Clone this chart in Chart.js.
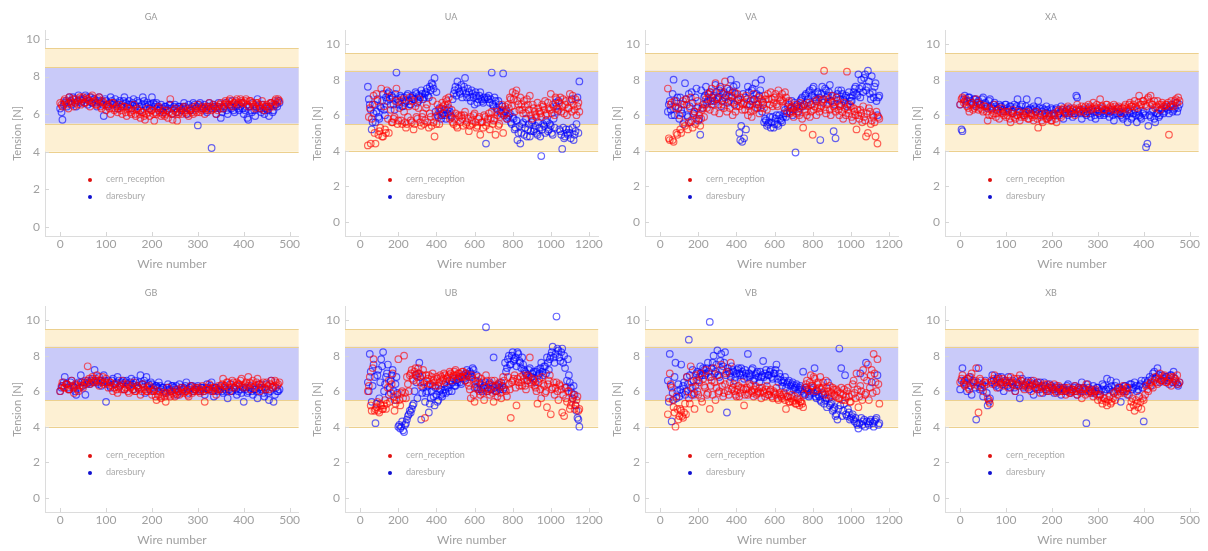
<!DOCTYPE html>
<html>
<head>
<meta charset="utf-8">
<script src="https://cdn.jsdelivr.net/npm/chart.js@4.4.1/dist/chart.umd.min.js"></script>
<style>
  body { margin: 0; background: #fff; width: 1208px; height: 551px; overflow: hidden; font-family: Lato, sans-serif; }
  .panel { position: absolute; width: 304px; height: 275px; }
  .legend { position: absolute; left: 88px; top: 170px; font-size: 9px; color: #aaa; line-height: 17px; }
  .legend .dot { display: inline-block; width: 4px; height: 4px; border-radius: 50%; margin-right: 14px; vertical-align: middle; }
</style>
</head>
<body>
<div id="wrap"></div>
<script>
// Limiti di tensione (bande)
const outerBand = [4, 9.5];
const innerBand = [5.5, 8.5];

const seriesNames = ['cern_reception', 'daresbury'];
const yTicks = [0, 2, 4, 6, 8, 10];
const xTicksG = [0, 100, 200, 300, 400, 500];
const xTicksU = [0, 200, 400, 600, 800, 1000, 1200];

// numeri dei fili campionati (griglia principale + fili intermedi)
function wireSteps(first, last, step) {
    const out = [];
    for (let w = first; w <= last; w += step) out.push(w);
    return out;
}
const wiresG = wireSteps(0, 475, 5);
const wiresGMid = wireSteps(3, 478, 5);
const wiresU = wireSteps(40, 1150, 10);
const wiresUMid = wireSteps(45, 1145, 10);

// GA
const gaCern = [
    6.6,6.4,6.8,6.5,6.9,6.6,6.4,6.8,6.7,6.5, 6.9,6.6,6.8,6.4,7.0,6.7,6.5,6.9,6.3,6.6,
    6.2,6.5,6.0,6.6,6.3,6.1,6.5,6.0,6.4,5.9, 6.3,6.0,6.5,5.9,6.2,5.8,6.1,5.7,6.3,5.9,
    6.2,5.65,6.0,6.4,5.9,6.2,6.0,5.8,6.8,5.7, 6.3,5.65,6.1,6.0,6.4,6.2,5.9,6.3,6.0,6.2,
    6.5,6.1,6.3,6.0,6.4,6.6,6.2,6.5,6.0,6.4, 6.6,6.3,6.7,6.5,6.8,6.4,6.6,6.8,6.5,6.7,
    6.6,6.8,6.4,6.7,6.5,6.3,6.6,6.4,6.7,6.2, 6.5,6.3,6.6,6.4,6.8,6.8
];
const gaCernMid = [
    6.5,6.7,6.6,6.3,6.7,6.8,6.6,6.5,6.9,6.8, 6.6,6.8,6.7,6.9,6.6,6.5,6.8,6.4,6.7,6.5,
    6.4,6.3,6.6,6.2,6.4,6.3,6.2,6.4,6.1,6.3, 6.1,6.2,6.0,6.3,6.0,6.1,5.9,6.0,6.1,6.2,
    6.0,6.1,6.3,6.1,6.0,5.9,6.2,6.1,6.0,6.2, 6.1,6.0,6.2,6.3,6.1,6.0,6.2,6.1,6.4,6.1,
    6.3,6.2,6.4,6.3,6.2,6.4,6.3,6.4,6.2,6.5, 6.4,6.5,6.6,6.7,6.5,6.6,6.7,6.6,6.8,6.6,
    6.7,6.5,6.7,6.6,6.4,6.6,6.5,6.3,6.5,6.4, 6.4,6.6,6.5,6.7,6.6,6.7
];
const gaDaresbury = [
    6.3,5.7,6.6,6.4,6.9,6.5,6.8,6.4,7.0,6.6, 6.8,7.0,6.5,6.9,6.6,6.8,6.4,6.9,6.7,5.9,
    6.7,6.4,6.9,6.5,6.8,6.3,6.7,6.5,6.9,6.4, 6.7,6.3,6.8,6.4,6.6,6.2,6.9,6.5,6.6,6.3,
    6.9,6.4,6.6,6.2,6.5,6.1,6.4,6.3,6.5,6.0, 6.5,6.1,6.4,6.2,6.6,6.0,6.5,6.2,6.6,6.3,
    5.4,6.6,6.3,6.5,6.1,6.6,4.2,6.4,6.0,6.6, 5.8,6.3,6.6,6.0,6.4,6.7,6.1,6.5,6.2,6.6,
    6.0,6.4,5.7,6.2,6.6,5.9,6.8,6.3,6.5,6.0, 6.4,5.9,6.6,6.2,6.5,6.7
];
const gaDaresburyMid = [
    6.1,6.5,6.7,6.6,6.7,6.9,6.6,6.7,6.8,6.7, 6.6,6.9,6.7,6.6,6.8,6.6,6.7,6.6,6.5,6.8,
    6.5,6.6,6.7,6.6,6.5,6.6,6.4,6.7,6.6,6.5, 6.5,6.6,6.5,6.7,6.4,6.5,6.7,6.4,6.5,6.5,
    6.6,6.5,6.4,6.3,6.3,6.4,6.2,6.5,6.3,6.4, 6.3,6.4,6.3,6.4,6.4,6.3,6.2,6.4,6.5,6.4,
    6.5,6.4,6.3,6.2,6.4,6.3,6.5,6.3,6.4,6.3, 6.1,6.4,6.2,6.5,6.3,6.2,6.4,6.3,6.4,6.3,
    6.2,5.8,6.4,6.1,6.2,6.4,6.3,6.1,6.2,6.3, 6.2,6.4,6.1,6.5,6.4,6.6
];

// UA
const uaCern = [
    4.3,6.4,5.8,7.1,4.4,6.8,5.1,7.5,4.8,5.2, 7.4,5.0,6.3,5.6,5.9,7.5,5.7,6.8,5.5,6.2,
    5.3,5.9,7.0,5.6,5.2,6.5,5.8,6.9,5.4,6.1, 5.7,6.6,5.3,5.9,6.8,4.8,5.5,6.3,6.0,6.7,
    6.1,6.9,6.6,5.8,6.3,5.5,6.1,5.3,5.9,6.0, 5.4,6.2,5.6,5.1,5.9,5.5,6.1,5.3,5.8,4.9,
    5.6,6.0,5.4,5.8,5.2,6.2,5.7,4.9,6.0,5.5, 6.3,5.0,6.5,5.8,6.4,6.9,7.3,6.2,7.4,6.6,
    7.0,6.3,6.8,6.1,6.6,7.1,5.8,6.4,6.0,6.7, 6.2,5.9,6.5,6.8,6.1,6.4,7.2,6.6,6.0,6.9,
    6.3,7.0,6.5,6.1,6.8,6.4,7.2,6.2,6.6,6.9, 6.5,6.2
];
const uaCernMid = [
    5.9,4.4,6.6,5.0,7.2,4.9,5.3,4.8,6.5,5.0, 5.8,7.0,5.6,5.8,6.8,5.5,6.4,5.7,6.9,5.6,
    5.5,6.5,5.7,6.8,5.5,5.9,6.4,5.6,5.9,5.5, 6.4,5.6,6.1,5.4,5.6,5.9,6.6,5.5,6.4,6.5,
    6.6,6.8,7.0,5.9,5.6,5.8,5.4,6.0,5.6,5.8, 6.0,5.5,5.8,5.4,5.7,6.0,5.6,5.4,5.9,5.6,
    5.3,5.9,5.6,6.1,5.8,5.5,5.8,6.2,5.4,5.9, 6.6,6.0,6.1,6.6,7.0,6.5,6.9,7.2,6.8,6.3,
    6.6,6.1,6.5,6.9,6.3,6.0,6.6,6.2,5.9,6.4, 6.1,6.6,6.3,6.0,6.7,6.3,6.1,6.5,7.0,6.4,
    6.7,6.2,6.9,6.6,6.0,6.4,6.8,7.1,6.3,6.0, 6.7
];
const uaDaresbury = [
    7.6,6.6,5.2,6.1,5.6,6.9,5.8,6.4,7.2,6.0, 6.8,7.3,6.6,7.0,6.3,8.4,6.7,7.1,6.5,7.0,
    6.8,7.2,6.6,7.0,6.9,7.3,6.7,7.1,7.4,6.9, 7.2,7.5,7.0,7.4,7.7,8.1,7.3,5.9,6.2,6.0,
    6.3,5.8,6.1,6.2,5.9,7.2,7.6,7.9,7.3,7.7, 7.4,8.1,7.0,7.3,6.8,7.2,6.6,7.1,6.9,7.3,
    6.8,7.0,4.4,6.9,6.7,8.4,6.5,6.8,6.3,6.6, 6.1,8.35,6.2,5.8,6.0,5.6,5.9,5.2,5.7,5.0,
    4.4,5.5,4.9,5.8,5.2,4.8,5.6,5.1,5.4,4.9, 5.3,3.7,5.5,5.0,5.6,5.2,5.4,4.9,5.3,6.5,
    6.8,5.1,4.1,4.7,5.2,4.9,5.0,6.9,4.6,5.1, 7.0,7.9
];
const uaDaresburyMid = [
    6.9,6.3,5.6,6.6,6.2,5.9,6.5,6.8,6.3,7.0, 7.2,6.9,7.1,6.6,7.2,6.9,6.6,7.0,6.5,6.7,
    7.1,6.8,6.6,7.1,6.9,7.2,6.8,7.0,7.2,7.0, 7.3,7.1,7.6,7.8,7.5,6.2,6.0,6.4,5.8,6.1,
    6.0,6.3,6.4,6.0,6.9,7.4,7.1,7.5,7.2,7.0, 7.6,7.2,7.5,7.0,7.4,7.0,7.3,6.7,7.1,6.9,
    6.7,6.9,7.0,7.1,6.9,6.6,7.0,6.4,6.8,6.2, 6.5,6.0,6.3,5.9,6.1,5.5,5.8,5.3,4.6,5.4,
    5.0,5.6,5.3,4.8,5.5,5.1,5.7,5.2,5.0,5.6, 4.8,5.2,5.4,5.7,5.1,5.5,5.0,5.8,6.7,6.2,
    5.2,4.9,5.3,4.8,5.0,5.2,4.7,5.3,4.9,5.5, 5.0
];

// VA
const vaCern = [
    7.5,4.6,6.7,4.5,6.4,4.9,6.0,5.0,6.8,5.4, 6.6,5.6,7.0,5.3,6.2,5.8,6.5,5.4,6.3,5.9,
    6.9,7.2,6.3,7.5,6.6,7.8,7.0,6.1,7.3,6.6, 7.9,6.2,7.1,6.8,6.0,7.3,6.5,6.9,7.0,6.3,
    6.7,7.1,6.0,6.6,5.9,7.2,6.4,6.8,6.1,6.9, 6.6,7.1,6.3,6.9,7.3,6.5,7.0,6.6,7.4,6.8,
    7.2,6.4,7.0,6.7,6.1,6.5,5.9,6.6,6.2,6.0, 6.5,5.3,6.3,6.0,6.7,6.2,4.9,6.5,6.0,6.9,
    6.4,6.8,8.5,6.1,6.7,6.3,7.1,6.5,6.2,6.8, 6.0,6.6,5.8,6.4,8.45,6.1,6.5,5.7,6.2,5.2,
    6.0,6.3,5.6,5.9,4.8,5.0,6.2,5.7,5.9,4.8, 4.4,5.8
];
const vaCernMid = [
    4.7,6.6,4.6,6.8,5.0,6.4,5.2,6.6,5.6,6.9, 5.2,6.4,5.7,6.0,5.5,6.8,6.0,5.8,6.4,6.6,
    6.4,7.0,7.3,6.8,6.2,6.9,6.6,7.5,6.8,6.4, 6.9,7.5,6.4,7.1,6.7,6.2,7.2,6.5,6.7,6.6,
    6.3,6.9,6.5,6.2,6.8,6.3,6.6,7.0,6.4,6.8, 6.4,6.9,7.2,6.6,6.9,6.7,7.2,6.5,7.0,6.9,
    6.8,7.3,6.2,6.8,6.4,6.2,6.4,6.1,6.5,6.7, 5.8,6.6,6.2,6.5,5.9,6.6,6.3,6.8,6.4,6.2,
    6.5,6.9,6.3,6.6,6.9,6.0,6.7,6.4,7.0,6.3, 6.5,6.2,6.7,6.0,6.3,6.6,5.9,6.4,6.0,6.3,
    5.8,6.1,6.5,5.7,6.1,6.4,5.5,6.0,5.6,6.2, 5.9
];
const vaDaresbury = [
    6.2,6.8,6.0,8.0,6.5,7.0,5.8,6.3,5.5,7.8, 6.0,7.2,5.6,6.7,6.2,7.5,5.7,4.9,6.4,7.0,
    7.6,6.8,7.3,6.6,7.1,7.7,6.9,7.4,6.5,7.2, 7.0,7.5,6.8,8.0,7.3,6.6,7.7,6.9,4.6,4.5,
    4.7,5.2,7.6,6.6,7.4,6.9,7.8,6.4,7.1,8.0, 6.7,5.8,5.4,5.6,5.3,5.9,5.5,6.0,5.4,5.8,
    5.6,6.1,5.9,6.5,6.2,6.8,6.3,3.9,6.6,6.4, 6.9,6.5,7.1,6.7,7.3,6.6,7.5,7.0,6.8,7.2,
    4.6,7.6,6.9,7.4,7.1,7.7,6.8,5.1,4.7,7.2, 6.6,7.4,6.9,7.0,6.5,7.3,6.8,7.1,7.5,7.2,
    8.3,7.0,7.6,8.1,7.4,8.5,7.2,8.2,7.0,7.8, 6.0,7.1
];
const vaDaresburyMid = [
    6.6,6.3,7.2,6.0,6.8,6.4,7.0,6.1,6.6,6.9, 5.9,6.5,7.3,6.1,7.0,6.4,5.8,7.4,6.6,7.1,
    6.7,7.2,6.8,7.0,6.8,7.3,7.0,7.6,6.8,7.3, 7.1,6.7,7.4,7.0,7.6,7.2,6.8,5.0,5.4,7.2,
    7.0,6.6,7.3,6.8,7.5,6.9,7.2,6.6,7.4,6.2, 5.6,5.7,5.5,5.9,5.6,5.3,5.8,5.5,6.0,5.7,
    5.9,6.3,6.1,6.6,6.4,6.0,6.7,6.5,6.2,6.8, 7.0,6.6,7.2,6.9,7.4,7.1,7.6,6.9,7.3,7.0,
    7.2,6.7,7.5,7.0,7.3,6.8,7.1,6.6,7.0,7.4, 6.9,7.2,6.8,7.1,6.6,7.0,6.8,7.3,7.6,7.1,
    7.5,8.0,7.3,8.3,7.6,7.9,6.9,7.3,7.6,6.8, 7.0
];

// XA
const xaCern = [
    6.6,7.0,6.8,6.5,6.2,6.7,6.4,6.9,6.3,6.6, 6.2,6.5,5.7,6.4,6.0,6.6,6.1,5.8,6.4,6.0,
    5.9,6.2,5.6,6.3,5.8,6.0,5.7,6.1,5.9,6.2, 5.8,6.0,5.7,6.2,5.3,5.9,5.6,6.1,5.8,6.0,
    5.7,6.1,5.6,6.3,5.9,6.4,6.1,6.5,6.2,6.3, 6.0,6.6,6.2,6.5,6.4,6.1,6.6,6.3,6.7,6.4,
    6.2,6.9,6.5,6.3,6.6,6.2,6.4,6.6,6.3,6.5, 6.1,6.4,6.6,6.3,6.7,6.5,6.8,6.4,7.1,6.6,
    6.8,6.5,7.0,7.1,6.6,6.4,6.8,6.3,6.7,6.5, 6.6,4.9,6.8,6.5,6.9,7.0
];
const xaCernMid = [
    6.9,6.7,6.9,6.4,6.6,6.3,6.5,6.7,6.4,6.3, 6.5,6.2,6.0,6.3,6.1,5.9,6.3,6.2,6.1,6.2,
    6.0,5.8,6.1,5.9,6.0,6.2,5.9,6.0,6.1,5.8, 6.1,5.9,6.0,5.8,6.1,5.7,6.0,5.8,5.9,5.7,
    6.0,5.8,6.2,6.0,6.3,6.2,6.4,6.3,6.1,6.4, 6.3,6.4,6.3,6.2,6.5,6.3,6.5,6.4,6.5,6.6,
    6.4,6.5,6.3,6.6,6.4,6.5,6.3,6.5,6.4,6.3, 6.4,6.5,6.4,6.6,6.5,6.6,6.5,6.7,6.6,6.8,
    6.6,6.9,6.7,6.6,6.8,6.5,6.6,6.6,6.5,6.6, 6.7,6.5,6.6,6.8,6.7,6.8
];
const xaDaresbury = [
    6.6,5.1,7.1,6.8,7.0,6.7,6.9,6.5,6.8,6.6, 7.0,6.7,6.5,6.9,6.4,6.7,6.3,6.6,6.5,6.2,
    6.6,6.3,6.5,6.1,6.4,6.9,6.2,6.6,6.0,6.9, 6.3,6.1,6.5,6.2,6.8,6.0,6.4,6.1,6.3,5.9,
    6.3,6.0,6.4,6.1,6.5,5.8,6.2,6.0,6.4,5.9, 6.1,7.0,6.3,5.8,6.2,6.0,6.4,5.9,6.2,5.8,
    6.3,6.0,6.4,6.1,6.2,5.9,6.3,5.7,6.1,6.4, 6.0,5.8,6.2,5.6,6.1,5.9,6.3,5.6,6.0,5.8,
    6.2,4.2,5.4,5.9,6.3,5.6,6.1,6.0,6.4,6.2, 6.5,6.1,6.6,6.3,6.7,6.4
];
const xaDaresburyMid = [
    5.2,6.9,6.6,7.0,6.8,6.6,6.9,6.7,6.6,6.9, 6.6,6.4,6.8,6.5,6.6,6.5,6.4,6.5,6.3,6.6,
    6.4,6.5,6.2,6.6,6.5,6.3,6.5,6.2,6.5,6.3, 6.4,6.3,6.4,6.3,6.4,6.2,6.3,6.5,6.1,6.4,
    6.1,6.3,6.0,6.2,6.3,6.1,6.3,6.1,6.2,6.1, 7.1,6.2,6.1,6.3,6.1,6.2,6.1,6.3,6.0,6.2,
    6.1,6.2,6.0,6.3,6.1,6.2,6.0,6.2,6.1,6.2, 5.9,6.1,6.0,6.2,5.8,6.1,6.0,6.2,5.9,6.1,
    6.0,4.4,6.0,6.2,5.8,6.1,5.9,6.3,6.1,6.4, 6.3,6.5,6.2,6.4,6.2,6.6
];

// GB
const gbCern = [
    6.0,6.5,6.2,6.4,6.1,6.6,5.9,6.3,6.0,6.5, 6.2,6.6,7.4,6.4,6.8,6.5,6.9,6.3,6.6,6.4,
    6.7,6.2,6.5,6.0,6.4,5.9,6.3,6.6,6.1,6.4, 5.9,6.3,6.5,6.0,6.2,5.8,6.4,6.1,6.0,6.3,
    5.8,6.1,5.5,6.0,5.6,5.9,5.4,6.2,5.7,5.9, 5.7,6.1,5.8,6.2,5.9,6.0,5.7,6.3,6.0,6.1,
    6.2,5.9,6.3,5.4,6.1,6.4,6.0,6.2,5.8,6.3, 6.1,6.7,6.3,6.5,6.0,6.6,6.2,6.5,6.4,6.7,
    6.2,6.5,6.8,6.1,6.6,6.3,6.7,6.0,6.4,6.2, 6.5,6.1,6.6,6.3,6.5,6.4
];
const gbCernMid = [
    6.3,6.2,6.4,6.1,6.3,6.2,6.4,6.1,6.3,6.3, 6.4,6.5,6.7,6.5,6.6,6.7,6.6,6.5,6.8,6.5,
    6.4,6.5,6.3,6.2,6.1,6.2,6.1,6.4,6.2,6.0, 6.2,6.1,6.0,6.3,6.1,6.0,6.2,6.0,6.2,6.0,
    6.0,5.7,5.8,5.7,5.8,5.7,5.9,5.8,6.0,5.8, 5.9,6.0,5.9,6.1,6.0,5.8,6.1,5.9,6.2,6.0,
    6.0,6.1,6.0,6.1,6.2,6.1,6.2,6.0,6.1,6.2, 6.4,6.3,6.5,6.2,6.4,6.5,6.3,6.4,6.6,6.3,
    6.4,6.3,6.5,6.4,6.2,6.5,6.4,6.3,6.5,6.1, 6.3,6.4,6.2,6.6,6.3,6.5
];
const gbDaresbury = [
    6.0,6.3,6.8,6.4,6.1,6.6,6.2,5.8,6.5,6.9, 6.3,5.8,6.6,6.4,6.7,7.2,6.5,6.8,6.3,6.9,
    5.4,6.6,6.2,6.7,6.4,6.8,6.3,6.5,6.1,6.6, 6.3,6.7,6.1,6.5,6.2,6.9,6.4,5.9,6.3,6.1,
    6.4,6.0,6.3,6.5,6.1,6.2,5.9,6.4,6.0,6.3, 6.1,5.8,6.4,6.0,6.2,6.5,5.9,6.3,6.0,6.1,
    6.3,6.0,6.2,5.8,6.4,6.1,6.5,5.7,6.2,6.0, 6.3,5.9,6.1,5.6,6.4,6.0,6.2,5.8,6.3,5.9,
    5.4,6.2,6.0,6.3,5.8,6.1,5.6,6.4,6.2,5.7, 6.4,5.5,6.6,5.4,6.2,6.0
];
const gbDaresburyMid = [
    6.2,6.5,6.4,6.2,6.5,6.3,6.0,6.4,6.2,6.5, 6.5,6.4,6.5,6.6,6.5,6.6,6.4,6.6,6.5,6.6,
    6.5,6.3,6.6,6.4,6.5,6.6,6.4,6.6,6.5,6.4, 6.5,6.4,6.6,6.3,6.5,6.4,6.6,6.8,6.4,6.5,
    6.2,6.3,6.2,6.3,6.2,6.0,6.2,6.1,6.3,6.2, 6.3,6.0,6.2,6.1,6.3,6.1,6.2,6.3,6.1,6.2,
    6.1,6.2,6.0,6.2,6.1,6.3,6.0,6.2,6.1,6.1, 6.0,6.2,6.0,6.1,6.0,6.2,6.1,6.0,6.1,6.2,
    6.1,5.9,6.2,6.0,6.1,6.0,6.2,6.1,5.9,6.1, 5.9,6.0,6.2,5.8,6.0,6.1
];

// UB
const ubCern = [
    6.0,6.8,4.9,7.8,5.0,5.4,4.8,5.2,5.0,5.5, 5.3,6.6,5.9,7.0,4.9,5.5,7.8,5.2,6.0,8.0,
    5.6,6.4,6.9,7.2,6.6,7.3,6.8,7.0,6.3,7.2, 4.5,6.6,6.9,6.4,7.0,6.5,6.8,6.3,6.9,6.6,
    7.0,6.5,6.8,7.1,6.6,6.9,7.2,6.7,7.0,6.8, 7.1,6.6,6.9,6.3,5.6,6.7,5.4,6.2,6.8,5.8,
    6.5,5.5,6.9,6.0,5.8,6.6,5.4,6.3,5.7,6.5, 5.6,6.8,6.1,5.7,6.4,4.5,6.6,6.9,5.2,6.5,
    6.8,6.3,6.7,6.1,6.9,7.9,6.4,6.6,6.2,5.3, 6.7,5.6,6.4,5.9,5.1,6.6,4.7,6.2,5.8,6.5,
    5.5,6.3,4.8,4.6,5.6,6.0,5.0,5.4,5.8,5.2, 5.7,5.0
];
const ubCernMid = [
    6.3,5.2,7.3,4.9,5.1,4.9,5.3,5.0,5.2,5.0, 6.2,5.4,6.4,5.7,5.3,5.8,5.5,5.9,5.6,5.9,
    6.8,6.0,7.0,6.7,7.1,6.9,7.3,6.5,6.9,6.4, 6.9,6.7,6.4,6.8,6.6,6.3,6.7,6.5,6.8,6.7,
    6.9,6.7,6.9,7.0,6.8,7.1,6.9,7.0,6.8,7.1, 6.8,7.0,6.5,6.1,6.9,5.8,6.4,6.6,6.0,6.7,
    5.9,6.2,6.6,6.1,6.4,5.9,6.6,6.0,6.4,5.9, 6.3,6.6,6.0,6.8,6.1,6.5,6.7,6.2,6.7,6.3,
    6.5,6.9,6.3,6.6,6.8,6.5,6.7,6.3,6.0,6.5, 6.1,6.8,6.3,6.0,6.4,6.9,6.1,6.5,6.2,6.0,
    6.4,6.1,5.8,6.2,5.4,6.0,5.2,5.6,5.0,5.5, 4.9
];
const ubDaresbury = [
    6.5,8.1,5.4,7.5,4.2,6.9,5.6,7.8,8.2,6.4, 7.0,5.8,6.6,7.2,5.5,6.8,4.0,3.9,4.3,3.7,
    4.2,4.6,4.9,5.0,5.3,6.9,5.6,7.6,4.4,6.2, 5.4,6.0,4.8,5.6,6.3,5.2,5.8,5.5,6.1,5.7,
    6.4,5.9,6.2,6.6,6.0,6.7,6.3,6.5,6.8,6.4, 6.9,6.6,7.2,6.8,7.0,7.3,6.2,6.9,6.1,6.4,
    6.0,6.3,9.6,6.2,6.5,6.1,7.9,6.0,6.3,6.2, 6.5,6.1,7.6,7.3,8.0,7.5,8.2,7.8,7.4,8.1,
    7.6,7.9,7.2,7.0,6.6,7.3,6.8,7.1,6.5,7.2, 7.0,7.6,6.9,7.4,7.9,7.2,8.0,8.5,7.6,10.2,
    8.3,7.7,8.4,8.0,6.2,7.8,6.5,5.9,6.3,5.2, 4.5,4.0
];
const ubDaresburyMid = [
    6.0,7.1,6.3,6.8,5.3,7.2,6.5,7.4,6.0,6.8, 7.5,6.2,6.9,6.0,6.4,5.9,4.1,4.0,3.8,4.1,
    4.4,4.7,4.8,5.2,6.0,6.5,7.0,6.8,5.9,6.5, 5.9,6.3,5.3,6.0,5.7,6.2,5.4,6.0,5.8,5.9,
    6.1,6.3,6.0,6.4,6.5,6.3,6.6,6.7,6.5,6.8, 6.7,7.0,6.9,7.1,6.8,7.2,6.6,6.2,6.5,6.1,
    6.2,6.5,6.0,6.4,6.1,6.3,6.2,6.0,6.4,6.1, 6.3,6.2,7.1,7.8,7.5,8.0,7.7,7.9,8.2,7.7,
    7.3,7.5,7.1,6.9,7.2,6.8,7.0,6.7,7.1,6.9, 7.3,7.1,7.4,7.0,7.6,7.8,8.2,7.9,8.1,8.4,
    7.9,8.2,7.6,7.3,6.6,6.9,6.2,5.6,5.8,4.9, 4.4
];

// VB
const vbCern = [
    4.7,7.0,6.2,5.1,4.0,5.0,4.6,4.9,4.5,5.3, 6.8,5.6,7.4,6.2,5.0,6.6,5.8,7.0,5.4,6.3,
    7.2,5.9,5.0,6.6,7.3,5.5,6.9,6.0,7.5,5.7, 6.4,7.1,5.8,7.6,6.2,6.0,5.7,6.3,5.9,6.5,
    5.2,6.1,5.8,6.4,6.0,5.7,6.3,5.9,6.2,5.6, 6.0,5.7,6.3,5.8,6.1,5.6,5.9,6.2,5.5,5.8,
    5.6,5.9,5.0,5.7,5.4,5.8,5.5,5.3,5.6,5.2, 5.4,5.1,6.2,6.6,6.0,6.9,6.3,6.7,6.1,6.5,
    6.8,6.2,6.0,6.6,5.8,6.3,5.9,6.1,5.7,6.0, 5.6,6.2,5.8,5.5,6.0,5.7,5.4,6.4,5.9,7.0,
    5.1,6.3,5.5,6.8,5.9,7.5,6.2,7.2,8.1,6.5, 7.8,5.3
];
const vbCernMid = [
    5.6,6.4,5.5,4.8,5.7,4.4,5.0,4.6,4.8,4.7, 6.0,5.3,6.5,5.8,6.9,6.0,6.5,5.6,6.7,6.2,
    5.8,6.8,6.3,5.8,6.5,6.2,5.9,6.6,6.3,5.9, 7.0,6.0,6.5,6.1,6.4,5.8,6.1,5.7,6.2,6.1,
    5.8,6.2,5.9,6.3,5.9,6.1,5.8,6.0,5.9,6.2, 5.9,6.1,5.8,6.0,5.7,6.0,5.8,5.6,5.9,5.7,
    5.8,5.5,5.7,5.4,5.6,5.4,5.7,5.3,5.5,5.4, 5.3,5.8,6.4,6.1,6.5,6.3,6.8,6.0,6.4,6.2,
    6.1,6.5,5.8,6.2,6.0,5.7,6.2,5.8,6.1,5.6, 5.9,5.5,6.1,5.7,6.2,5.4,5.8,6.6,5.6,6.1,
    5.7,6.0,7.2,5.8,6.6,5.5,6.9,5.9,7.0,6.0, 6.4
];
const vbDaresbury = [
    6.6,8.1,4.3,5.5,7.6,6.0,5.7,7.5,6.3,5.8, 6.8,8.9,6.2,7.2,5.9,7.0,6.6,7.4,6.9,7.2,
    7.0,7.6,9.9,7.3,8.0,7.1,8.3,6.8,8.1,7.4, 8.2,4.8,7.1,6.8,7.2,6.6,7.0,7.3,6.9,7.1,
    6.7,7.0,8.1,6.8,7.2,6.6,6.9,7.1,6.5,6.8, 7.7,7.0,6.6,6.9,7.2,6.7,7.0,7.5,6.5,6.8,
    6.3,6.6,6.2,6.5,6.0,6.4,6.1,6.3,5.9,6.2, 6.0,7.1,5.8,6.1,5.7,5.9,6.2,7.3,5.6,5.8,
    5.5,5.9,5.3,5.6,6.5,5.2,5.4,5.0,4.6,4.4, 8.4,7.3,4.9,6.9,4.6,4.8,4.5,4.7,4.3,4.2,
    3.9,7.0,4.1,4.4,7.6,4.2,4.3,6.5,4.0,4.4, 6.9,4.2
];
const vbDaresburyMid = [
    5.4,6.3,5.9,6.8,5.6,6.4,6.1,5.9,6.5,6.0, 6.4,6.9,5.8,6.6,6.3,7.1,6.8,7.0,7.3,6.9,
    7.3,7.1,6.8,7.6,7.0,7.5,6.9,7.7,7.2,7.6, 6.9,7.3,7.0,7.4,7.1,6.8,7.2,7.0,7.3,6.9,
    7.2,6.8,7.0,6.9,7.3,6.7,7.0,6.8,7.1,6.9, 6.8,7.2,6.9,7.1,6.8,7.0,7.2,6.7,7.0,6.6,
    6.5,6.8,6.4,6.6,6.3,6.5,6.2,6.4,6.1,6.3, 6.1,5.9,6.2,6.0,5.8,6.1,5.9,5.7,6.0,5.7,
    5.4,5.8,5.5,5.1,5.6,5.3,4.9,5.1,4.7,5.0, 5.2,4.6,5.3,4.7,5.0,4.4,4.6,4.4,4.5,4.1,
    4.2,4.5,4.3,4.0,4.3,4.1,4.4,4.2,4.3,4.5, 4.1
];

// XB
const xbCern = [
    6.5,6.9,6.3,6.7,6.1,7.0,6.4,7.3,4.8,6.6, 6.0,6.5,5.6,5.3,6.4,6.9,6.2,6.7,6.5,6.3,
    6.6,6.2,6.8,6.4,6.0,6.7,6.9,6.3,6.1,6.5, 6.4,6.0,6.6,6.2,6.5,5.9,6.3,6.1,6.4,6.0,
    6.2,6.4,5.9,6.3,6.0,6.1,5.8,6.2,5.9,6.1, 6.3,5.8,6.1,5.6,6.2,6.4,5.9,6.0,5.7,6.1,
    5.5,5.8,5.3,5.6,5.2,5.7,5.4,5.9,6.0,6.2, 5.9,6.3,6.0,6.2,5.1,5.6,4.9,5.3,5.7,5.0,
    5.5,6.3,6.0,6.5,6.2,6.8,6.4,7.0,6.6,6.9, 6.5,6.7,6.3,6.8,6.6,6.4
];
const xbCernMid = [
    6.7,6.4,6.6,6.2,6.8,6.5,6.6,6.3,6.7,6.2, 6.5,6.4,5.5,6.6,6.7,6.5,6.6,6.4,6.7,6.5,
    6.4,6.6,6.5,6.7,6.3,6.5,6.6,6.4,6.3,6.2, 6.5,6.3,6.4,6.1,6.3,6.2,6.4,6.0,6.2,6.3,
    6.1,6.0,6.2,6.1,6.0,6.2,6.0,5.9,6.1,6.0, 6.0,6.2,5.9,6.1,5.8,6.0,6.1,5.9,6.0,5.8,
    5.7,5.5,5.6,5.4,5.5,5.3,5.6,5.5,5.8,6.0, 6.1,5.9,6.2,5.8,5.4,5.2,5.5,5.1,5.4,5.6,
    5.8,6.1,6.4,6.3,6.6,6.5,6.7,6.6,6.8,6.5, 6.6,6.8,6.5,6.7,6.9,6.5
];
const xbDaresbury = [
    6.1,7.3,6.6,6.0,6.8,5.8,6.5,4.4,7.3,6.2, 5.7,6.6,5.2,5.6,6.9,6.4,6.7,6.2,6.8,6.0,
    6.5,6.8,6.2,6.6,6.0,6.4,5.6,6.7,6.3,6.5, 6.1,6.6,5.8,6.4,6.2,6.5,5.9,6.3,6.0,6.4,
    6.2,5.9,6.3,6.1,5.8,6.2,6.0,6.4,5.9,6.1, 6.3,5.8,6.1,6.5,6.0,4.2,6.2,5.9,6.3,6.0,
    6.2,5.8,6.4,6.0,6.7,6.1,6.3,5.9,6.5,6.2, 5.4,6.0,6.3,5.8,6.4,6.1,6.5,6.0,6.3,6.6,
    4.3,6.4,6.6,6.3,7.0,6.7,7.3,6.5,6.9,6.6, 6.8,6.4,6.9,7.1,6.5,6.3
];
const xbDaresburyMid = [
    6.6,6.5,6.4,6.7,6.3,6.6,6.2,6.5,6.1,6.4, 6.3,5.9,5.4,6.5,6.6,6.3,6.8,6.5,6.4,6.6,
    6.3,6.5,6.4,6.2,6.5,6.3,6.6,6.2,6.4,6.6, 6.3,6.4,6.2,6.5,6.1,6.3,6.5,6.1,6.2,6.3,
    6.1,6.2,6.0,6.2,6.1,6.0,6.3,6.1,6.0,6.2, 6.0,6.2,6.0,6.2,6.1,6.4,6.0,6.1,5.9,6.2,
    6.0,6.1,6.3,6.1,6.2,6.6,6.0,6.3,6.1,6.2, 6.1,6.3,6.0,6.2,6.4,6.2,6.3,6.1,6.4,6.2,
    6.6,6.5,6.8,6.7,7.1,6.8,6.9,6.6,6.7,6.8, 6.6,6.9,6.5,6.7,6.4,6.5
];

const panels = [
    { name: 'GA', w: wiresG, wm: wiresGMid, cern: [gaCern, gaCernMid], dares: [gaDaresbury, gaDaresburyMid], x: [-33, 520], y: [-0.48, 10.43], ticks: xTicksG },
    { name: 'UA', w: wiresU, wm: wiresUMid, cern: [uaCern, uaCernMid], dares: [uaDaresbury, uaDaresburyMid], x: [-80, 1250], y: [-0.8, 10.75], ticks: xTicksU },
    { name: 'VA', w: wiresU, wm: wiresUMid, cern: [vaCern, vaCernMid], dares: [vaDaresbury, vaDaresburyMid], x: [-80, 1250], y: [-0.8, 10.75], ticks: xTicksU },
    { name: 'XA', w: wiresG, wm: wiresGMid, cern: [xaCern, xaCernMid], dares: [xaDaresbury, xaDaresburyMid], x: [-33, 520], y: [-0.8, 10.75], ticks: xTicksG },
    { name: 'GB', w: wiresG, wm: wiresGMid, cern: [gbCern, gbCernMid], dares: [gbDaresbury, gbDaresburyMid], x: [-33, 520], y: [-0.8, 10.75], ticks: xTicksG },
    { name: 'UB', w: wiresU, wm: wiresUMid, cern: [ubCern, ubCernMid], dares: [ubDaresbury, ubDaresburyMid], x: [-80, 1250], y: [-0.8, 10.75], ticks: xTicksU },
    { name: 'VB', w: wiresU, wm: wiresUMid, cern: [vbCern, vbCernMid], dares: [vbDaresbury, vbDaresburyMid], x: [-80, 1250], y: [-0.8, 10.75], ticks: xTicksU },
    { name: 'XB', w: wiresG, wm: wiresGMid, cern: [xbCern, xbCernMid], dares: [xbDaresbury, xbDaresburyMid], x: [-33, 520], y: [-0.8, 10.75], ticks: xTicksG }
];

const colors = { cern: 'rgba(255,0,0,0.6)', dares: 'rgba(0,0,255,0.6)', cernDot: '#e01010', daresDot: '#1010d0' };

Chart.defaults.font.family = 'Lato, sans-serif';

// bande colorate + tacche interne
const bandPlugin = {
    id: 'bands',
    beforeDatasetsDraw(chart) {
        const { ctx, chartArea: a, scales: { y } } = chart;
        ctx.save();
        ctx.beginPath();
        ctx.rect(a.left, a.top, a.right - a.left, a.bottom - a.top);
        ctx.clip();
        const fillBand = (band, fill) => {
            const t = y.getPixelForValue(band[1]), b = y.getPixelForValue(band[0]);
            ctx.fillStyle = fill;
            ctx.fillRect(a.left, t, a.right - a.left, b - t);
        };
        fillBand(outerBand, '#fdf0d3');
        fillBand(innerBand, '#c9caf9');
        ctx.strokeStyle = '#ecd08e';
        ctx.lineWidth = 1;
        [...outerBand, ...innerBand].forEach(v => {
            const p = Math.round(y.getPixelForValue(v)) + 0.5;
            ctx.beginPath();
            ctx.moveTo(a.left, p);
            ctx.lineTo(a.right, p);
            ctx.stroke();
        });
        ctx.restore();
    },
    afterDraw(chart) {
        const { ctx, chartArea: a, scales: { x, y } } = chart;
        ctx.save();
        ctx.strokeStyle = '#d6d6d6';
        ctx.lineWidth = 1;
        x.ticks.forEach(t => {
            const p = Math.round(x.getPixelForValue(t.value)) + 0.5;
            ctx.beginPath();
            ctx.moveTo(p, a.bottom);
            ctx.lineTo(p, a.bottom - 4);
            ctx.stroke();
        });
        y.ticks.forEach(t => {
            const p = Math.round(y.getPixelForValue(t.value)) + 0.5;
            ctx.beginPath();
            ctx.moveTo(a.left, p);
            ctx.lineTo(a.left + 4, p);
            ctx.stroke();
        });
        ctx.restore();
    }
};

const wrap = document.getElementById('wrap');
panels.forEach((p, i) => {
    const col = i % 4, row = Math.floor(i / 4);
    const div = document.createElement('div');
    div.className = 'panel';
    div.style.left = (col * 300) + 'px';
    div.style.top = (row * 276) + 'px';
    const canvas = document.createElement('canvas');
    canvas.width = 304;
    canvas.height = 275;
    div.appendChild(canvas);

    // legenda
    const leg = document.createElement('div');
    leg.className = 'legend';
    leg.innerHTML = seriesNames.map((n, k) =>
        `<div><span class="dot" style="background:${k === 0 ? colors.cernDot : colors.daresDot}"></span>${n}</div>`
    ).join('');
    div.appendChild(leg);
    wrap.appendChild(div);

    const pts = ([main, mid]) => [
        ...p.w.map((w, k) => ({ x: w, y: main[k] })),
        ...p.wm.map((w, k) => ({ x: w, y: mid[k] }))
    ];

    new Chart(canvas, {
        type: 'scatter',
        data: {
            datasets: [
                { label: seriesNames[0], data: pts(p.cern), borderColor: colors.cern, backgroundColor: 'rgba(0,0,0,0)', pointRadius: 3.3, borderWidth: 1.2 },
                { label: seriesNames[1], data: pts(p.dares), borderColor: colors.dares, backgroundColor: 'rgba(0,0,0,0)', pointRadius: 3.3, borderWidth: 1.2 }
            ]
        },
        options: {
            responsive: false,
            animation: false,
            events: [],
            layout: { padding: { left: 0, right: 2, top: 0, bottom: 0 } },
            plugins: {
                legend: { display: false },
                tooltip: { enabled: false },
                title: { display: true, text: p.name, color: '#999', font: { size: 9, weight: 'normal' }, padding: { top: 12, bottom: 8 } }
            },
            scales: {
                x: {
                    type: 'linear', min: p.x[0], max: p.x[1],
                    afterBuildTicks: s => { s.ticks = p.ticks.map(v => ({ value: v })); },
                    afterFit: s => { s.height = 39; },
                    grid: { display: false, drawTicks: false },
                    border: { color: '#dcdcdc' },
                    ticks: { color: '#a0a0a0', font: { size: 12 }, padding: 1, callback: v => String(v) },
                    title: { display: true, text: 'Wire number', color: '#a0a0a0', font: { size: 12 }, padding: { top: 0, bottom: 4 } }
                },
                y: {
                    type: 'linear', min: p.y[0], max: p.y[1],
                    afterBuildTicks: s => { s.ticks = yTicks.map(v => ({ value: v })); },
                    afterFit: s => { s.width = 45; },
                    grid: { display: false, drawTicks: false },
                    border: { color: '#dcdcdc' },
                    ticks: { color: '#a0a0a0', font: { size: 12 }, padding: 5, callback: v => String(v) },
                    title: { display: true, text: 'Tension [N]', color: '#a0a0a0', font: { size: 11 }, padding: { top: 11, bottom: 0 } }
                }
            }
        },
        plugins: [bandPlugin]
    });
});
</script>
</body>
</html>
